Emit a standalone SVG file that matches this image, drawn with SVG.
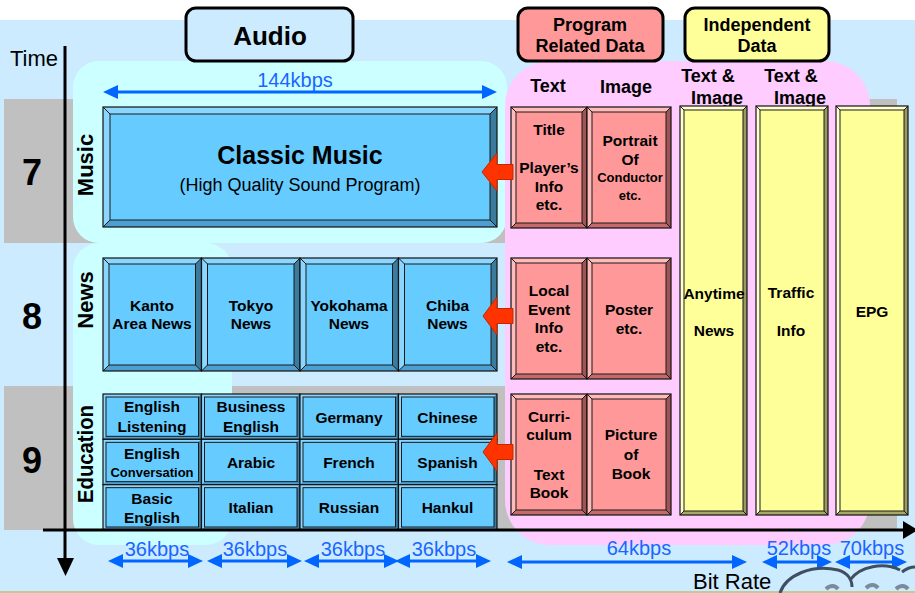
<svg xmlns="http://www.w3.org/2000/svg" width="915" height="593" viewBox="0 0 915 593">
<style>
  text { font-family: "Liberation Sans", Arial, sans-serif; text-anchor: middle; fill: #000; }
  .b { font-weight: bold; }
  .hd { font-size: 18px; font-weight: bold; }
  .bx { font-size: 15.5px; font-weight: bold; }
  .sm { font-size: 13px; font-weight: bold; }
  .kb { font-size: 20px; fill: #1A66FF; }
  .ax { font-size: 22px; text-anchor: start; }
  .row { font-size: 36px; font-weight: bold; }
  .cat { font-size: 22px; font-weight: bold; }
  .b-md { fill: #4C9FD0; } .b-lt { fill: #8AD6FF; } .b-dk { fill: #3A7B9E; } .b-fc { fill: #66CCFF; }
  .p-md { fill: #C46A6A; } .p-lt { fill: #FFBABA; } .p-dk { fill: #A05555; } .p-fc { fill: #FF9999; }
  .y-md { fill: #A8A866; } .y-lt { fill: #FFFFD0; } .y-dk { fill: #999960; } .y-fc { fill: #FFFF99; }
  .sk { fill: none; stroke: #1a1a1a; stroke-width: 1; }
  .ol { fill: none; stroke: #111; stroke-width: 1.2; }
  .hbox { stroke: #000; stroke-width: 3; }
  .meas { stroke: #0066FF; stroke-width: 3; fill: none; marker-start: url(#ah); marker-end: url(#ah); }
  .blk { fill: #FF3300; stroke: #C02800; stroke-width: 1; }
  .axis { stroke: #000; stroke-width: 3; fill: none; }
</style>
<defs>
  <marker id="ah" viewBox="0 0 15 14" markerWidth="15" markerHeight="14" refX="5" refY="7" orient="auto-start-reverse" markerUnits="userSpaceOnUse">
    <path d="M0,0L15,7L0,14Z" fill="#0066FF"/>
  </marker>
  <!-- bevelled tiles: base (bottom bevel), light top/left, dark right, face, corner lines -->
  <g id="bxM">
    <rect width="394" height="120" class="b-md"/>
    <path class="b-lt" d="M0,0H394L387,7H7V113L0,120Z"/>
    <path class="b-dk" d="M394,0V120L387,113V7Z"/>
    <rect x="7" y="7" width="380" height="106" class="b-fc"/>
    <rect x="7" y="7" width="380" height="106" class="sk"/>
    <path class="sk" d="M0,0L7,7M394,0L387,7M0,120L7,113M394,120L387,113"/>
    <rect width="394" height="120" class="ol"/>
  </g>
  <g id="bxN">
    <rect width="98.5" height="113" class="b-md"/>
    <path class="b-lt" d="M0,0H98.5L92.5,6H6V107L0,113Z"/>
    <path class="b-dk" d="M98.5,0V113L92.5,107V6Z"/>
    <rect x="6" y="6" width="86.5" height="101" class="b-fc"/>
    <rect x="6" y="6" width="86.5" height="101" class="sk"/>
    <path class="sk" d="M0,0L6,6M98.5,0L92.5,6M0,113L6,107M98.5,113L92.5,107"/>
    <rect width="98.5" height="113" class="ol"/>
  </g>
  <g id="bxE">
    <rect width="98.5" height="45.33" class="b-md"/>
    <path class="b-lt" d="M0,0H98.5L95.5,3H3V42.33L0,45.33Z"/>
    <path class="b-dk" d="M98.5,0V45.33L95.5,42.33V3Z"/>
    <rect x="3" y="3" width="92.5" height="39.33" class="b-fc"/>
    <rect x="3" y="3" width="92.5" height="39.33" class="sk"/>
    <rect width="98.5" height="45.33" class="ol"/>
  </g>
  <g id="bxP1">
    <rect width="76" height="121" class="p-md"/>
    <path class="p-lt" d="M0,0H76L71,5H5V116L0,121Z"/>
    <path class="p-dk" d="M76,0V121L71,116V5Z"/>
    <rect x="5" y="5" width="66" height="111" class="p-fc"/>
    <rect x="5" y="5" width="66" height="111" class="sk"/>
    <path class="sk" d="M0,0L5,5M76,0L71,5M0,121L5,116M76,121L71,116"/>
    <rect width="76" height="121" class="ol"/>
  </g>
  <g id="bxP2">
    <rect width="84" height="121" class="p-md"/>
    <path class="p-lt" d="M0,0H84L79,5H5V116L0,121Z"/>
    <path class="p-dk" d="M84,0V121L79,116V5Z"/>
    <rect x="5" y="5" width="74" height="111" class="p-fc"/>
    <rect x="5" y="5" width="74" height="111" class="sk"/>
    <path class="sk" d="M0,0L5,5M84,0L79,5M0,121L5,116M84,121L79,116"/>
    <rect width="84" height="121" class="ol"/>
  </g>
  <g id="bxY1">
    <rect width="67" height="409" class="y-md"/>
    <path class="y-lt" d="M0,0H67L63,4H4V405L0,409Z"/>
    <path class="y-dk" d="M67,0V409L63,405V4Z"/>
    <rect x="4" y="4" width="59" height="401" class="y-fc"/>
    <rect x="4" y="4" width="59" height="401" class="sk"/>
    <path class="sk" d="M0,0L4,4M67,0L63,4M0,409L4,405M67,409L63,405"/>
    <rect width="67" height="409" class="ol"/>
  </g>
  <g id="bxY2">
    <rect width="72" height="409" class="y-md"/>
    <path class="y-lt" d="M0,0H72L68,4H4V405L0,409Z"/>
    <path class="y-dk" d="M72,0V409L68,405V4Z"/>
    <rect x="4" y="4" width="64" height="401" class="y-fc"/>
    <rect x="4" y="4" width="64" height="401" class="sk"/>
    <path class="sk" d="M0,0L4,4M72,0L68,4M0,409L4,405M72,409L68,405"/>
    <rect width="72" height="409" class="ol"/>
  </g>
</defs>

<!-- backdrop -->
<rect width="915" height="593" fill="#CCEBFF"/>
<rect width="915" height="20" fill="#FFFFFF"/>
<rect y="591" width="915" height="2" fill="#C8C896"/>

<!-- time bands 7 and 9 -->
<rect x="4" y="99" width="893" height="144" fill="#C0C0C0"/>
<rect x="4" y="386" width="893" height="144" fill="#C0C0C0"/>

<!-- audio and data areas -->
<rect x="73" y="61" width="434" height="182" rx="26" fill="#CCFFFF"/>
<rect x="73" y="243" width="159" height="302" rx="26" fill="#CCFFFF"/>
<rect x="505" y="61" width="365" height="484" rx="45" fill="#FFCCFF"/>

<!-- column headers -->
<g id="hdr-audio">
  <rect x="186" y="8" width="167" height="53" rx="10" fill="#CCEBFF" class="hbox"/>
  <text x="270" y="45" class="b" font-size="26">Audio</text>
</g>
<g id="hdr-program">
  <rect x="518" y="8" width="145" height="53" rx="10" fill="#FF9999" class="hbox"/>
  <text x="590" y="31" class="hd">Program</text>
  <text x="590" y="52" class="hd">Related Data</text>
</g>
<g id="hdr-independent">
  <rect x="685" y="8" width="144" height="53" rx="10" fill="#FFFF99" class="hbox"/>
  <text x="757" y="31" class="hd">Independent</text>
  <text x="757" y="52" class="hd">Data</text>
</g>
<g id="sub-headers">
  <text x="548" y="92" class="hd">Text</text>
  <text x="626" y="93" class="hd">Image</text>
  <text x="708" y="82" class="hd">Text &amp;</text>
  <text x="717" y="104" class="hd">Image</text>
  <text x="791" y="82" class="hd">Text &amp;</text>
  <text x="800" y="104" class="hd">Image</text>
</g>

<!-- row numbers and categories -->
<g id="rows">
  <text x="32" y="185" class="row">7</text>
  <text x="32" y="329" class="row">8</text>
  <text x="32" y="473" class="row">9</text>
  <text transform="translate(93,165) rotate(-90)" class="cat">Music</text>
  <text transform="translate(93,300) rotate(-90)" class="cat">News</text>
  <text transform="translate(93,454) rotate(-90)" class="cat" textLength="98" lengthAdjust="spacingAndGlyphs">Education</text>
</g>

<!-- audio programs -->
<g id="classic-music">
  <use href="#bxM" x="103" y="107"/>
  <text x="300" y="164" class="b" font-size="25">Classic Music</text>
  <text x="300" y="191" font-size="18">(High Quality Sound Program)</text>
</g>

<g id="news-kanto"><use href="#bxN" x="103" y="258"/>
  <text x="152" y="311" class="bx">Kanto</text><text x="152" y="329" class="bx">Area News</text></g>
<g id="news-tokyo"><use href="#bxN" x="201.5" y="258"/>
  <text x="251" y="311" class="bx">Tokyo</text><text x="251" y="329" class="bx">News</text></g>
<g id="news-yokohama"><use href="#bxN" x="300" y="258"/>
  <text x="349" y="311" class="bx">Yokohama</text><text x="349" y="329" class="bx">News</text></g>
<g id="news-chiba"><use href="#bxN" x="398.5" y="258"/>
  <text x="447.5" y="311" class="bx">Chiba</text><text x="447.5" y="329" class="bx">News</text></g>

<g id="edu-english-listening"><use href="#bxE" x="103" y="394"/>
  <text x="152" y="412" class="bx">English</text><text x="152" y="432" class="bx">Listening</text></g>
<g id="edu-business-english"><use href="#bxE" x="201.5" y="394"/>
  <text x="251" y="412" class="bx">Business</text><text x="251" y="432" class="bx">English</text></g>
<g id="edu-germany"><use href="#bxE" x="300" y="394"/>
  <text x="349" y="423" class="bx">Germany</text></g>
<g id="edu-chinese"><use href="#bxE" x="398.5" y="394"/>
  <text x="447.5" y="423" class="bx">Chinese</text></g>

<g id="edu-english-conversation"><use href="#bxE" x="103" y="439.33"/>
  <text x="152" y="459" class="bx">English</text><text x="152" y="477" class="sm">Conversation</text></g>
<g id="edu-arabic"><use href="#bxE" x="201.5" y="439.33"/>
  <text x="251" y="468" class="bx">Arabic</text></g>
<g id="edu-french"><use href="#bxE" x="300" y="439.33"/>
  <text x="349" y="468" class="bx">French</text></g>
<g id="edu-spanish"><use href="#bxE" x="398.5" y="439.33"/>
  <text x="447.5" y="468" class="bx">Spanish</text></g>

<g id="edu-basic-english"><use href="#bxE" x="103" y="484.67"/>
  <text x="152" y="504" class="bx">Basic</text><text x="152" y="523" class="bx">English</text></g>
<g id="edu-italian"><use href="#bxE" x="201.5" y="484.67"/>
  <text x="251" y="513" class="bx">Italian</text></g>
<g id="edu-russian"><use href="#bxE" x="300" y="484.67"/>
  <text x="349" y="513" class="bx">Russian</text></g>
<g id="edu-hankul"><use href="#bxE" x="398.5" y="484.67"/>
  <text x="447.5" y="513" class="bx">Hankul</text></g>

<!-- program related data -->
<g id="prd-music-text"><use href="#bxP1" x="511" y="107"/>
  <text x="549" y="135" class="bx">Title</text>
  <text x="549" y="173" class="bx">Player’s</text>
  <text x="549" y="192" class="bx">Info</text>
  <text x="549" y="210" class="bx">etc.</text></g>
<g id="prd-music-image"><use href="#bxP2" x="587" y="107"/>
  <text x="630" y="146" class="bx">Portrait</text>
  <text x="630" y="165" class="bx">Of</text>
  <text x="630" y="182" class="sm">Conductor</text>
  <text x="630" y="200" class="sm">etc.</text></g>
<g id="prd-news-text"><use href="#bxP1" x="511" y="258"/>
  <text x="549" y="296" class="bx">Local</text>
  <text x="549" y="315" class="bx">Event</text>
  <text x="549" y="333" class="bx">Info</text>
  <text x="549" y="352" class="bx">etc.</text></g>
<g id="prd-news-image"><use href="#bxP2" x="587" y="258"/>
  <text x="629" y="315" class="bx">Poster</text>
  <text x="629" y="334" class="bx">etc.</text></g>
<g id="prd-edu-text"><use href="#bxP1" x="511" y="394"/>
  <text x="549" y="422" class="bx">Curri-</text>
  <text x="549" y="440" class="bx">culum</text>
  <text x="549" y="480" class="bx">Text</text>
  <text x="549" y="498" class="bx">Book</text></g>
<g id="prd-edu-image"><use href="#bxP2" x="587" y="394"/>
  <text x="631" y="440" class="bx">Picture</text>
  <text x="631" y="460" class="bx">of</text>
  <text x="631" y="479" class="bx">Book</text></g>

<!-- independent data -->
<g id="ind-anytime-news"><use href="#bxY1" x="680" y="106"/>
  <text x="714" y="299" class="bx">Anytime</text>
  <text x="714" y="336" class="bx">News</text></g>
<g id="ind-traffic-info"><use href="#bxY2" x="756" y="106"/>
  <text x="791" y="298" class="bx">Traffic</text>
  <text x="791" y="336" class="bx">Info</text></g>
<g id="ind-epg"><use href="#bxY2" x="836" y="106"/>
  <text x="872" y="317" class="bx">EPG</text></g>

<!-- links from program data to audio programs -->
<g id="connectors">
  <path class="blk" d="M482,172L497,153V164.5H513V179.5H497V191Z"/>
  <path class="blk" d="M483,316L497,297V308.5H513V323.5H497V335Z"/>
  <path class="blk" d="M483,452L497,433V444.5H513V459.5H497V471Z"/>
</g>

<!-- axes -->
<g id="axes">
  <line x1="65" y1="46" x2="65" y2="560" class="axis"/>
  <path d="M57,558H74L65.5,576Z"/>
  <line x1="43" y1="530" x2="905" y2="530" class="axis"/>
  <path d="M903,521L918,530L903,539Z"/>
  <text x="10" y="66" class="ax">Time</text>
  <text x="693" y="589" class="ax">Bit Rate</text>
</g>

<!-- bit rate spans -->
<g id="bitrates">
  <line x1="113" y1="92" x2="487" y2="92" class="meas"/>
  <text x="295" y="87" class="kb">144kbps</text>
  <line x1="118" y1="561" x2="193" y2="561" class="meas"/>
  <line x1="217" y1="561" x2="292" y2="561" class="meas"/>
  <line x1="314" y1="561" x2="389" y2="561" class="meas"/>
  <line x1="405" y1="561" x2="481" y2="561" class="meas"/>
  <text x="157" y="556" class="kb">36kbps</text>
  <text x="255" y="556" class="kb">36kbps</text>
  <text x="353" y="556" class="kb">36kbps</text>
  <text x="444" y="556" class="kb">36kbps</text>
  <line x1="517" y1="562" x2="737" y2="562" class="meas"/>
  <text x="639" y="555" class="kb">64kbps</text>
  <line x1="772" y1="562" x2="822" y2="562" class="meas"/>
  <text x="799" y="555" class="kb">52kbps</text>
  <line x1="845" y1="562" x2="897" y2="562" class="meas"/>
  <text x="872" y="555" class="kb">70kbps</text>
</g>

<!-- emblem at the lower right edge -->
<g id="emblem" fill="none" stroke="#3E5060" stroke-width="3">
  <path d="M780,593C786,575 812,564 838,570C848,573 852,580 852,587"/>
  <path d="M850,580C860,566 884,562 900,570"/>
  <path d="M902,572C907,568 912,567 915,567"/>
  <path d="M826,589c4,-4 9,-4 12,0M866,588c4,-4 9,-4 12,0M896,589c4,-4 9,-4 12,0" stroke="#7A8C9C" stroke-width="4"/>
</g>
</svg>
